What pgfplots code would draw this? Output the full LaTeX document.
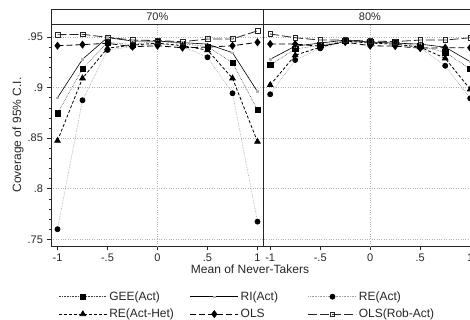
\documentclass[border=0pt]{standalone}
\usepackage{pgfplots}
\pgfplotsset{compat=1.18}
\usepackage{pgfplotstable}
\usepackage{fontspec}
\setmainfont{Liberation Sans}

\pgfplotstableread{
x      gee    ri     re     rehet  ols    olsrob
-1     .8745  .890   .760   .8475  .9414  .9523
-0.75  .9187  .928   .8875  .9092  .9425  .9527
-0.5   .9448  .9495  .9372  .939   .9438  .9497
-0.25  .9425  .946   .9405  .942   .9404  .947
0      .946   .946   .9435  .944   .9414  .9465
0.25   .9435  .9445  .9405  .9415  .9394  .9454
0.5    .9405  .943   .930   .937   .9400  .948
0.75   .9246  .9345  .8944  .9092  .9414  .948
1      .878   .896   .7675  .8465  .9448  .9562
}\seventy

\pgfplotstableread{
x      gee    ri     re     rehet  ols    olsrob
-1     .9223  .928   .8934  .9026  .9431  .953
-0.75  .9381  .941   .9273  .932   .943   .9493
-0.5   .942   .944   .9388  .940   .941   .947
-0.25  .946   .947   .946   .946   .945   .947
0      .945   .945   .944   .944   .9414  .946
0.25   .945   .944   .943   .943   .941   .9455
0.5    .941   .943   .9395  .940   .939   .947
0.75   .935   .940   .9216  .929   .9394  .947
1      .9184  .9256  .8894  .8983  .9394  .9493
}\eighty

\pgfplotsset{
  panel/.style={
    scale only axis, width=212.7pt, height=221.5pt,
    anchor=south west,
    xmin=-1.065, xmax=1.062, ymin=0.7434, ymax=0.9624,
    xtick={-1,-0.5,0,0.5,1},
    xticklabels={-1,-.5,0,.5,1},
    ytick={.75,.8,.85,.9,.95},
    yticklabels={.75,.8,.85,.9,.95},
    tick align=outside, tick pos=left,
    major tick length=4.5pt, minor tick length=2.5pt,
    minor y tick num=4,
    ymajorgrids, grid style={dotted, gray!60, line width=0.6pt},
    extra x ticks={0}, extra x tick labels={},
    extra x tick style={xmajorgrids=true, major tick length=0pt},
    axis line style={black!85, line width=0.8pt},
    every tick/.style={black!85, line width=0.6pt},
    tick label style={font=\fontsize{11}{13}\selectfont, text=black!85},
    /pgf/number format/assume math mode=true,
    clip=false,
  },
  gee/.style={black!75, densely dotted, line width=0.6pt, mark=square*, mark size=2.6pt, mark options={solid, fill=black, draw=black}},
  ri/.style={black, solid, line width=0.6pt, mark=square*, mark size=0.9pt, mark options={solid, fill=gray!60, draw=gray!60}},
  re/.style={gray!75, densely dotted, line width=0.6pt, mark=*, mark size=2.6pt, mark options={solid, fill=black, draw=black}},
  rehet/.style={black, dash pattern=on 3pt off 2pt, line width=0.8pt, mark=triangle*, mark size=3.2pt, mark options={solid, fill=black}},
  ols/.style={black, dash pattern=on 6pt off 3pt, line width=0.8pt, mark=diamond*, mark size=3.4pt, mark options={solid, fill=black}},
  olsrob/.style={black!85, dash pattern=on 9pt off 3pt, line width=0.8pt, mark=square, mark size=2.3pt, mark options={solid, fill=white, line width=0.6pt}},
}

\begin{document}
\begin{tikzpicture}[x=1pt,y=1pt]
\useasboundingbox (0,0) rectangle (470,320);
\clip (0,0) rectangle (470,320);

\begin{axis}[panel, at={(51pt,74pt)},
  legend columns=3,
  legend cell align=left,
  legend style={draw=none, fill=none, at={(0.02,-0.187)}, anchor=north west,
    font=\fontsize{12}{14}\selectfont, text=black!85,
    /tikz/column 2/.style={column sep=14pt},
    /tikz/column 4/.style={column sep=28pt},
    row sep=3.2pt},
  legend image code/.code={\draw[mark repeat=2, mark phase=2] plot coordinates {(0pt,0pt) (24pt,0pt) (48pt,0pt)};},
]
\addplot[gee] table[x=x,y=gee] {\seventy};
\addlegendentry{GEE(Act)}
\addplot[ri] table[x=x,y=ri] {\seventy};
\addlegendentry{RI(Act)}
\addplot[re] table[x=x,y=re] {\seventy};
\addlegendentry{RE(Act)}
\addplot[rehet] table[x=x,y=rehet] {\seventy};
\addlegendentry{RE(Act-Het)}
\addplot[ols] table[x=x,y=ols] {\seventy};
\addlegendentry{OLS}
\addplot[olsrob] table[x=x,y=olsrob] {\seventy};
\addlegendentry{OLS(Rob-Act)}
\end{axis}

\begin{axis}[panel, at={(263.7pt,74pt)},
  yticklabels={}, y tick style={draw=none}, minor y tick num=0,
]
\addplot[gee] table[x=x,y=gee] {\eighty};
\addplot[ri] table[x=x,y=ri] {\eighty};
\addplot[re] table[x=x,y=re] {\eighty};
\addplot[rehet] table[x=x,y=rehet] {\eighty};
\addplot[ols] table[x=x,y=ols] {\eighty};
\addplot[olsrob] table[x=x,y=olsrob] {\eighty};
\end{axis}

\draw[black!85, line width=0.8pt] (51,295.5) rectangle (263.7,310.5);
\draw[black!85, line width=0.8pt] (263.7,295.5) rectangle (476.4,310.5);
\node[font=\fontsize{11}{13}\selectfont, text=black!85] at (157.3,303) {70\%};
\node[font=\fontsize{11}{13}\selectfont, text=black!85] at (370,303) {80\%};

\node[font=\fontsize{12}{14}\selectfont, text=black!85] at (250,51) {Mean of Never-Takers};
\node[font=\fontsize{12}{14}\selectfont, text=black!85, rotate=90] at (18,185) {Coverage of 95\% C.I.};
\end{tikzpicture}
\end{document}
